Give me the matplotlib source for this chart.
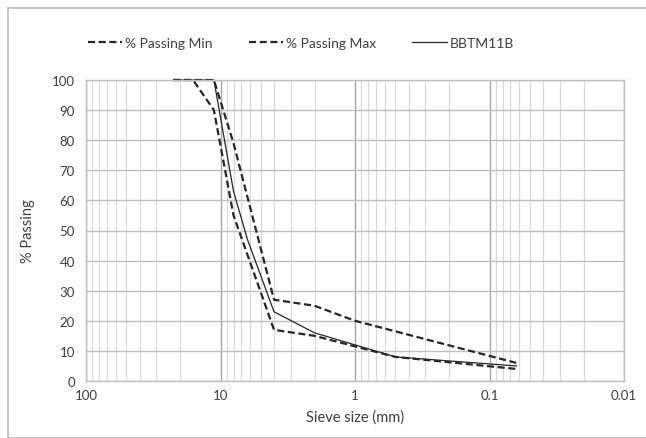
import matplotlib.pyplot as plt
from matplotlib.patches import Rectangle
from matplotlib.ticker import FixedLocator, FixedFormatter, NullFormatter
import numpy as np

plt.rcParams['font.family'] = ['Lato', 'DejaVu Sans']

# grading envelope and mix (sieve size in mm, % passing)
min_size = [22.4, 16, 11.2, 8, 4, 2, 0.5, 0.063]
min_pass = [100, 100, 90, 55, 17, 15, 8, 4]
max_size = [22.4, 16, 11.2, 8, 4, 2, 1, 0.063]
max_pass = [100, 100, 100, 79, 27, 25, 20, 6]
mix_size = [22.4, 16, 11.2, 8, 6.3, 4, 2, 0.5, 0.063]
mix_pass = [100, 100, 100, 63, 47, 23, 16, 8, 5]

x_ticks = [100, 10, 1, 0.1, 0.01]
x_labels = ['100', '10', '1', '0.1', '0.01']

fig = plt.figure(figsize=(6.46, 4.39), dpi=100)
ax = fig.add_axes([86/646, 1-382/439, (624-86)/646, (382-81)/439])

dash = (0, (3.2, 1.6))
l1, = ax.plot(min_size, min_pass, color='#262626', lw=1.6, linestyle=dash,
              label='% Passing Min', clip_on=False)
l2, = ax.plot(max_size, max_pass, color='#262626', lw=1.6, linestyle=dash,
              label='% Passing Max', clip_on=False)
l3, = ax.plot(mix_size, mix_pass, color='#262626', lw=0.9, label='BBTM11B', clip_on=False)

ax.set_xscale('log')
ax.set_xlim(100, 0.01)
ax.set_ylim(0, 100)
ax.xaxis.set_major_locator(FixedLocator(x_ticks))
ax.xaxis.set_major_formatter(FixedFormatter(x_labels))
minors = [m * 10.0**e for e in range(-2, 2) for m in range(2, 10)]
ax.xaxis.set_minor_locator(FixedLocator(minors))
ax.xaxis.set_minor_formatter(NullFormatter())
ax.set_yticks(np.arange(0, 101, 10))

ax.grid(True, which='major', axis='x', color='#a6a6a6', lw=1.0)
ax.grid(True, which='minor', axis='x', color='#d9d9d9', lw=0.9)
ax.grid(True, which='major', axis='y', color='#bfbfbf', lw=1.0)
ax.set_axisbelow(True)
for s in ax.spines.values():
    s.set_color('#bfbfbf')
    s.set_linewidth(1.0)
ax.tick_params(which='both', length=0, labelsize=9.5, colors='#404040', pad=6)
ax.tick_params(axis='y', pad=8)

ax.set_xlabel('Sieve size (mm)', fontsize=10.5, color='#404040', labelpad=6)
ax.set_ylabel('% Passing', fontsize=10.5, color='#404040', labelpad=12)

fig.legend(handles=[l1, l2, l3], loc='center', bbox_to_anchor=(301/646, 1-44/439),
           ncol=3, frameon=False, fontsize=10, handlelength=2.5, columnspacing=2.6,
           handletextpad=0.2, labelcolor='#404040')

fig.patches.append(Rectangle((8/646, 0), 1, 1-9/439, transform=fig.transFigure,
                             fill=False, edgecolor='#bfbfbf', lw=1.2))

fig.savefig('out.png', dpi=100)
